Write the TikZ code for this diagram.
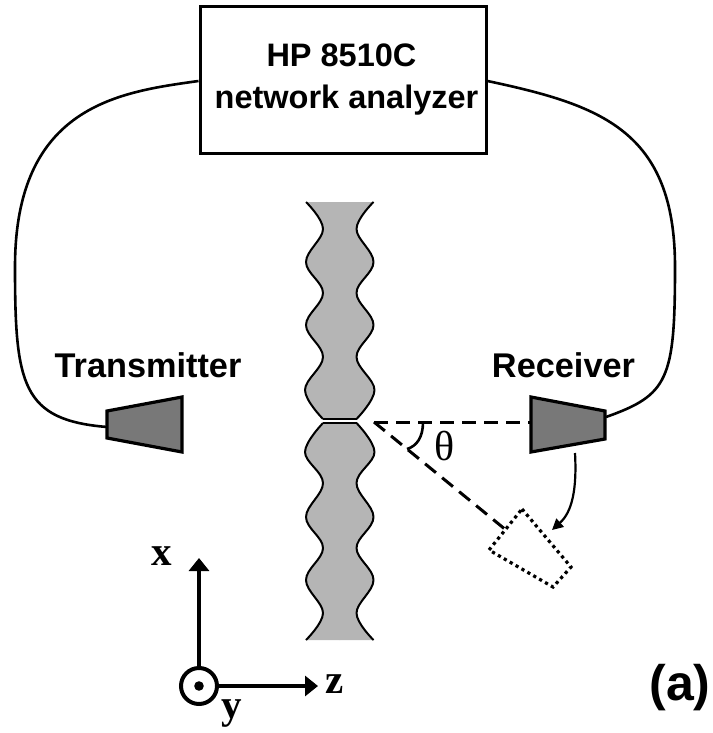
\documentclass[tikz,border=0pt]{standalone}
\usepackage{fontspec}
\setmainfont{Liberation Sans}
\newfontfamily\serifb{Liberation Serif}
\usetikzlibrary{arrows.meta}
\definecolor{sheetgray}{gray}{0.71}
\definecolor{horngray}{gray}{0.47}
\tikzset{
 x=1pt,y=-1pt,
 sheetedge/.style={draw=black,line width=2pt,line join=round},
 horn/.style={draw=black,line width=3.2pt,fill=horngray,line join=miter},
 cable/.style={draw=black,line width=2.6pt},
 sans/.style={font=\fontsize{34.3}{38}\selectfont\bfseries,inner sep=0pt,align=center},
 boxtext/.style={font=\fontsize{32.5}{38}\selectfont\bfseries,inner sep=0pt,align=center},
 axlabel/.style={font=\fontsize{41}{41}\serifb\bfseries,inner sep=0pt},
 beam/.style={draw=black,line width=3pt,dash pattern=on 14pt off 8pt},
 axisline/.style={draw=black,line width=3.2pt,-{Triangle[length=13pt,width=20pt]}},
}
\newcommand\halfsheet{%
 \fill[sheetgray] plot[smooth,tension=0.62] coordinates {(306,202) (323,229) (306,262) (323,293) (306,325) (323,357) (305,390) (323,419)} -- (340,419) -- (340,202) -- cycle;
 \draw[sheetedge] plot[smooth,tension=0.62] coordinates {(306,202) (323,229) (306,262) (323,293) (306,325) (323,357) (305,390) (323,419)};
 \fill[sheetgray] plot[smooth,tension=0.62] coordinates {(323,423) (305,452) (323,483) (306,517) (323,548) (306,580) (323,613) (306,640)} -- (340,640) -- (340,423) -- cycle;
 \draw[sheetedge] plot[smooth,tension=0.62] coordinates {(323,423) (305,452) (323,483) (306,517) (323,548) (306,580) (323,613) (306,640)};
}
\begin{document}
\begin{tikzpicture}
\useasboundingbox (0,0) rectangle (712,733);
% periodic sheet with central slit
\halfsheet
\begin{scope}[xshift=679.5pt,xscale=-1]
\halfsheet
\end{scope}
\draw[sheetedge] (323,419) -- (356.5,419) (323,423) -- (356.5,423);
% analyzer
\node[draw=black,line width=3pt,minimum width=286pt,minimum height=146pt,inner sep=0pt] (analyzer) at (343,80) {};
\node[boxtext] (analyzertext) at (346.5,80) {\hspace*{-10pt}HP 8510C\\[4pt]network analyzer};
% cables
\coordinate (axl) at (analyzer.west |- 0,81);
\coordinate (axr) at (analyzer.east |- 0,81);
\coordinate (txport) at (107,427);
\coordinate (rxport) at (606,417);
\coordinate (cl) at (15,267);
\coordinate (cr) at (675,267);
\draw[cable] (axl) .. controls (120,92) and (15,105) .. (cl) .. controls (15,385) and (22,420) .. (txport);
\draw[cable] (axr) .. controls (600,105) and (675,130) .. (cr) .. controls (675,380) and (668,395) .. (rxport);
% horns
\draw[horn] (107,411) -- (182,397) -- (182,452) -- (107,438) -- cycle;
\draw[horn] (531,397) -- (605,411) -- (605,439) -- (531,452) -- cycle;
% labels
\node[sans] (txlabel) at (148,365) {Transmitter};
\node[sans] (rxlabel) at (563.5,365) {Receiver};
% beams
\coordinate (pivot) at (374,422);
\coordinate (rxface) at (531,422);
\coordinate (dotface) at (506,530);
\draw[beam] (pivot) -- (rxface);
\draw[beam] (pivot) -- (dotface);
\draw[line width=2.6pt] (423,422) .. controls (423,437) and (417,446) .. (407,449);
\node[font=\fontsize{42}{42}\serifb,inner sep=0pt] (theta) at (445,446) {θ};
% dotted receiver
\draw[line width=3.2pt,dash pattern=on 3.2pt off 3.6pt] (522,509) -- (571,567) -- (553,587) -- (489,550) -- cycle;
% rotation arrow
\coordinate (arcstart) at (575,453);
\coordinate (arcend) at (552,530);
\draw[line width=2.2pt,-{Triangle[length=11pt,width=11pt]}] (arcstart) .. controls (577,490) and (572,512) .. (arcend);
% axes
\node[circle,draw=black,line width=4pt,minimum size=36pt,inner sep=0pt] (origin) at (199,686) {};
\fill (origin.center) circle (4.8pt);
\coordinate (xtip) at (199,558);
\coordinate (ztip) at (318,686);
\draw[axisline] (origin) -- (xtip);
\draw[axisline] (origin) -- (ztip);
\node[axlabel] (xlabel) at (162,556) {x};
\node[axlabel] (zlabel) at (335,684) {z};
\node[axlabel] (ylabel) at (232,714) {y};
\node[font=\fontsize{50}{50}\selectfont\bfseries,inner sep=0pt] (panel) at (680,688) {(a)};
\end{tikzpicture}
\end{document}
